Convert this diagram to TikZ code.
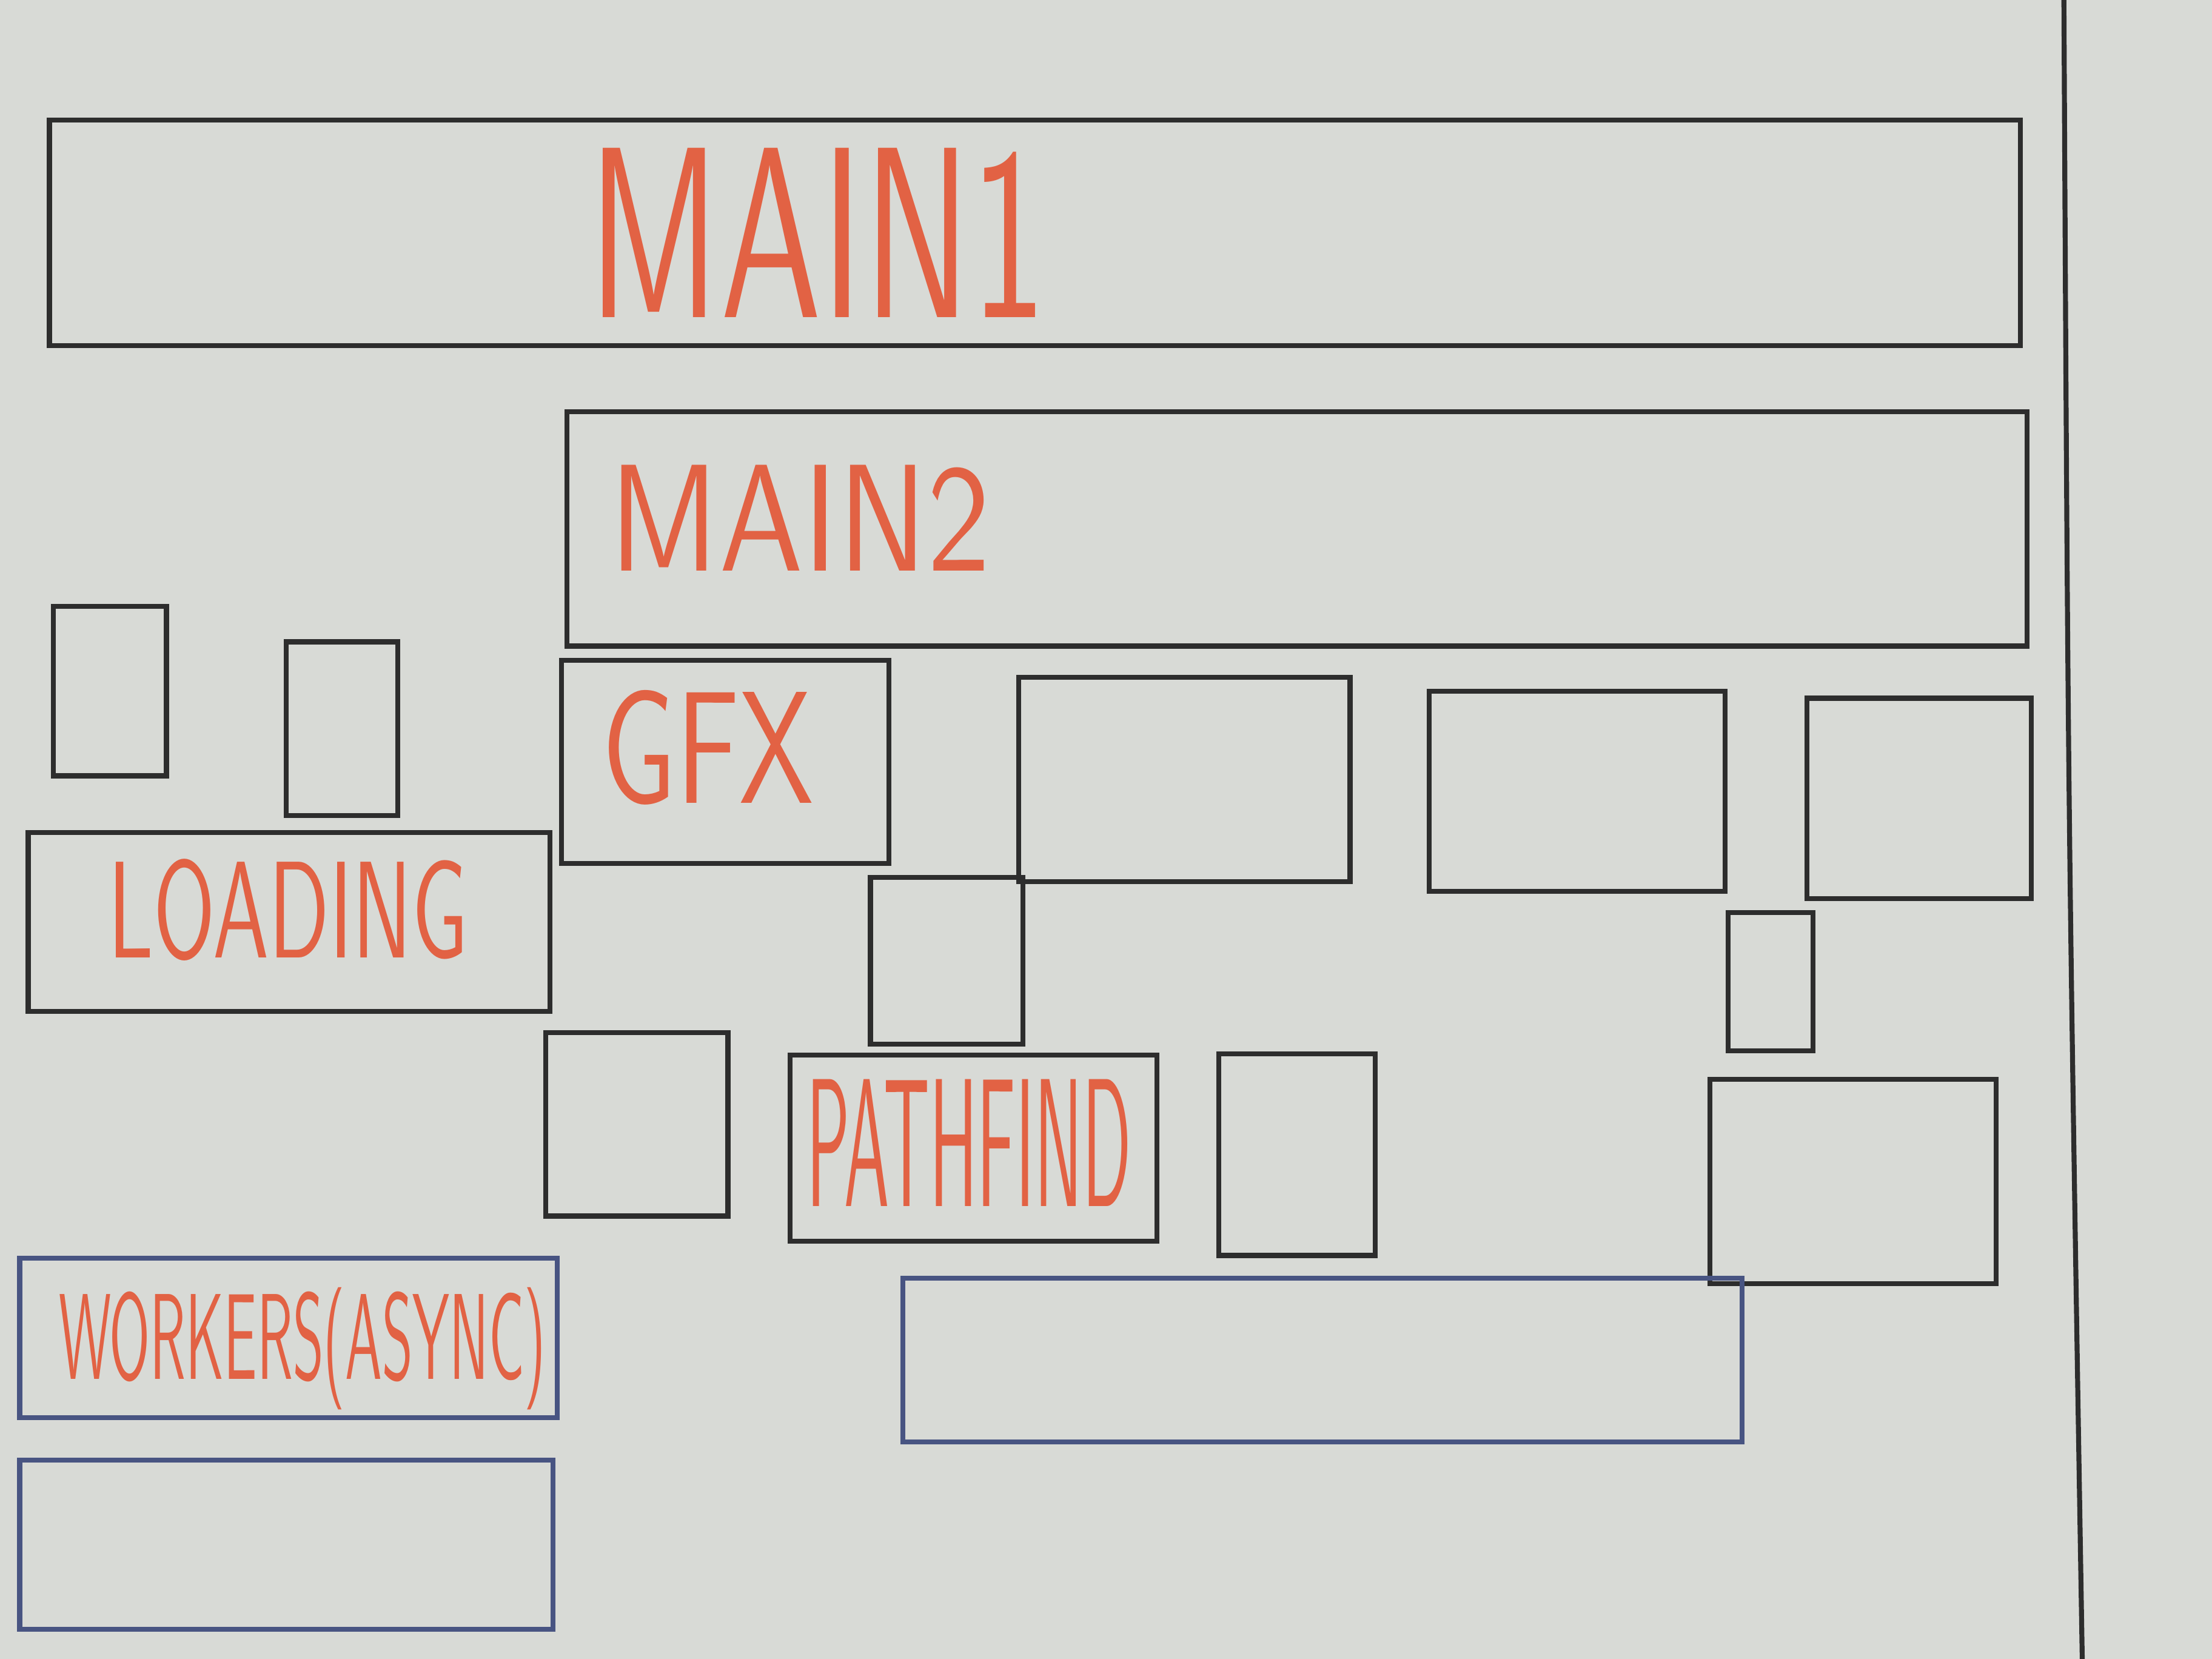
\documentclass[tikz,border=0pt]{standalone}
\usepackage{graphicx}
\usetikzlibrary{positioning}
\definecolor{board}{RGB}{216,218,214}
\definecolor{ink}{RGB}{45,45,45}
\definecolor{blueink}{RGB}{72,84,130}
\definecolor{redink}{RGB}{226,98,68}
\newcommand{\hand}[3]{\resizebox{#1}{#2}{\sffamily #3}}

\begin{document}
\begin{tikzpicture}[line width=1pt,
    box/.style 2 args={draw=ink, inner sep=0pt, minimum width=#1cm, minimum height=#2cm},
    bluebox/.style 2 args={box={#1}{#2}, draw=blueink},
    lbl/.style={text=redink, inner sep=0pt, anchor=west}]
          \fill[board] (0,0) rectangle (15.68,11.76);
          \useasboundingbox (0,0) rectangle (15.68,11.76);

          % top rows
          \node[box={13.97}{1.60}] (main1) at (7.335,10.11) {};
          \node[box={10.35}{1.66}] (main2) at (9.195,8.01) {};

          \node[box={0.80}{1.20}] (small1) at (0.78,6.86) {};
          \node[box={0.79}{1.23}] (small2) at (2.425,6.595) {};
          \node[box={2.32}{1.44}] (gfx) at (5.14,6.36) {};
          \node[box={2.35}{1.45}] (rowA) at (8.395,6.235) {};
          \node[box={2.10}{1.42}] (rowB) at (11.18,6.15) {};
          \node[box={1.59}{1.42}] (rowC) at (13.605,6.10) {};

          % middle
          \node[box={3.70}{1.27}] (loading) at (2.05,5.225) {};
          \node[box={1.08}{1.18}] (small3) at (6.71,4.95) {};
          \node[box={0.60}{0.98}] (small4) at (12.55,4.80) {};
          \node[box={1.29}{1.30}] (small5) at (4.515,3.79) {};
          \node[box={2.60}{1.32}] (pathfind) at (6.90,3.62) {};
          \node[box={1.11}{1.43}] (small6) at (9.195,3.575) {};
          \node[box={2.03}{1.45}] (rowD) at (13.135,3.385) {};

          % blue ones
          \node[bluebox={3.81}{1.13}] (workers) at (2.045,2.275) {};
          \node[bluebox={5.95}{1.16}] (blueA) at (9.375,2.12) {};
          \node[bluebox={3.78}{1.20}] (blueB) at (2.03,0.81) {};

          \node[lbl] (main1lbl) at (4.15,10.11) {\hand{3.25cm}{1.2cm}{MAIN1}};
          \node[lbl] (main2lbl) at (4.30,8.09) {\hand{2.7cm}{0.75cm}{MAIN2}};
          \node[lbl] (gfxlbl) at (4.25,6.46) {\hand{1.5cm}{0.8cm}{GFX}};
          \node[lbl] (loadinglbl) at (0.75,5.31) {\hand{2.55cm}{0.7cm}{LOADING}};
          \node[lbl] (pathfindlbl) at (5.70,3.66) {\hand{2.3cm}{0.9cm}{PATHFIND}};
          \node[lbl] (workerslbl) at (0.40,2.20) {\hand{3.45cm}{0.65cm}{WORKERS(ASYNC)}};

          \draw[ink] (14.63,11.76) .. controls (14.66,6) .. (14.76,0);
      \end{tikzpicture}
\end{document}
